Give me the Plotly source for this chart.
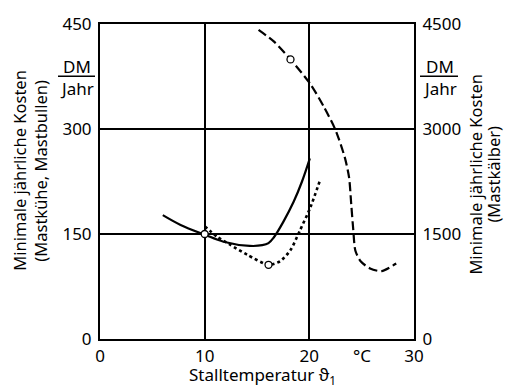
import plotly.graph_objects as go

# Solid curve (left axis, DM/Jahr)
solid_t = [6.0, 7.7, 10.0, 11.8, 14.3, 15.5, 16.1, 16.6, 17.5, 18.5, 19.3, 20.05]
solid_v = [177, 163, 149, 139, 133, 134, 137, 145, 167, 196, 225, 258]

# Dotted curve (left axis)
dot_t = [10.0, 11.2, 12.4, 14.1, 16.1, 17.2, 18.2, 19.1, 20.1, 21.05]
dot_v = [161, 146, 135, 120, 106, 111, 127, 155, 188, 228]

# Dashed curve (right axis, Mastkälber)
dash_t = [15.15, 16.6, 18.2, 20.1, 21.4, 22.5, 23.4, 23.8, 24.0, 24.2, 24.4, 24.9, 25.8, 26.9, 28.3]
dash_v = [4416, 4251, 3994, 3642, 3314, 2986, 2588, 2306, 1931, 1557, 1260, 1111, 1008, 970, 1078]

# Marked points (open circles)
mark_left_t = [10.0, 16.1]
mark_left_v = [150, 106]
mark_right_t = [18.2]
mark_right_v = [3994]

x_ticks = [0, 10, 20, 30]
y_ticks = [0, 150, 300, 450]
y2_ticks = [0, 1500, 3000, 4500]

FONT = "Noto Sans"
fig = go.Figure()

fig.add_trace(go.Scatter(x=solid_t, y=solid_v, mode="lines",
                         line=dict(color="black", width=2.2, shape="spline", smoothing=1.0),
                         showlegend=False, hoverinfo="skip"))
fig.add_trace(go.Scatter(x=dot_t, y=dot_v, mode="lines",
                         line=dict(color="black", width=2.6, dash="dot", shape="spline", smoothing=0.7),
                         showlegend=False, hoverinfo="skip"))
fig.add_trace(go.Scatter(x=dash_t, y=dash_v, mode="lines", yaxis="y2",
                         line=dict(color="black", width=2.2, dash="9px,4px", shape="spline", smoothing=0.7),
                         showlegend=False, hoverinfo="skip"))
fig.add_trace(go.Scatter(x=mark_left_t, y=mark_left_v, mode="markers",
                         marker=dict(symbol="circle", size=7, color="white",
                                     line=dict(color="black", width=1.3)),
                         showlegend=False, hoverinfo="skip"))
fig.add_trace(go.Scatter(x=mark_right_t, y=mark_right_v, mode="markers", yaxis="y2",
                         marker=dict(symbol="circle", size=7, color="white",
                                     line=dict(color="black", width=1.3)),
                         showlegend=False, hoverinfo="skip"))

tickfont = dict(family=FONT, size=17, color="black")
titlefont = dict(family=FONT, size=17, color="black")
sidefont = dict(family=FONT, size=16.5, color="black")

fig.update_layout(
    width=506, height=389,
    margin=dict(l=100, r=92, t=19, b=50),
    paper_bgcolor="white", plot_bgcolor="white",
    xaxis=dict(range=[0, 30], tickvals=x_ticks, ticktext=[str(v) for v in x_ticks],
               showgrid=True, gridcolor="black", gridwidth=1.5,
               showline=True, linecolor="black", linewidth=2, mirror=True,
               zeroline=False, ticks="", tickfont=tickfont, ticklabelstandoff=1),
    yaxis=dict(range=[0, 450], tickvals=y_ticks, ticktext=[str(v) for v in y_ticks],
               showgrid=True, gridcolor="black", gridwidth=1.5,
               showline=True, linecolor="black", linewidth=2, mirror=True,
               zeroline=False, ticks="", tickfont=tickfont, ticklabelstandoff=3),
    yaxis2=dict(range=[0, 4500], tickvals=y2_ticks, ticktext=[str(v) for v in y2_ticks],
                overlaying="y", side="right", showgrid=False,
                showline=True, linecolor="black", linewidth=2,
                zeroline=False, ticks="", tickfont=tickfont, ticklabelstandoff=3),
)


def px_to_paper_x(px):
    return (px - 100) / 314.0


def px_to_paper_y(py):
    return (339 - py) / 320.0


annotations = []
for cx in [77, 440]:
    annotations.append(dict(x=px_to_paper_x(cx), y=px_to_paper_y(62), xref="paper", yref="paper",
                            text="DM", showarrow=False, font=tickfont, xanchor="center", yanchor="middle"))
    annotations.append(dict(x=px_to_paper_x(cx), y=px_to_paper_y(85), xref="paper", yref="paper",
                            text="Jahr", showarrow=False, font=tickfont, xanchor="center", yanchor="middle"))
# °C label
annotations.append(dict(x=25, y=px_to_paper_y(356), xref="x", yref="paper", text="°C",
                        showarrow=False, font=tickfont, xanchor="center", yanchor="middle"))
# Axis titles
annotations.append(dict(x=px_to_paper_x(262), y=px_to_paper_y(376), xref="paper", yref="paper",
                        text="Stalltemperatur ϑ<sub>1</sub>", showarrow=False, font=titlefont,
                        xanchor="center", yanchor="middle"))
annotations.append(dict(x=px_to_paper_x(20), y=px_to_paper_y(168), xref="paper", yref="paper",
                        text="Minimale jährliche Kosten", textangle=-90, showarrow=False,
                        font=sidefont, xanchor="center", yanchor="middle"))
annotations.append(dict(x=px_to_paper_x(41), y=px_to_paper_y(168), xref="paper", yref="paper",
                        text="(Mastkühe, Mastbullen)", textangle=-90, showarrow=False,
                        font=sidefont, xanchor="center", yanchor="middle"))
annotations.append(dict(x=px_to_paper_x(476), y=px_to_paper_y(172), xref="paper", yref="paper",
                        text="Minimale jährliche Kosten", textangle=-90, showarrow=False,
                        font=sidefont, xanchor="center", yanchor="middle"))
annotations.append(dict(x=px_to_paper_x(494), y=px_to_paper_y(172), xref="paper", yref="paper",
                        text="(Mastkälber)", textangle=-90, showarrow=False,
                        font=sidefont, xanchor="center", yanchor="middle"))
fig.update_layout(annotations=annotations)

shapes = []
for x0, x1 in [(58, 95), (420, 458)]:
    shapes.append(dict(type="line", xref="paper", yref="paper",
                       x0=px_to_paper_x(x0), x1=px_to_paper_x(x1),
                       y0=px_to_paper_y(72), y1=px_to_paper_y(72),
                       line=dict(color="black", width=1.5)))
fig.update_layout(shapes=shapes)

fig.write_html("out.html")
